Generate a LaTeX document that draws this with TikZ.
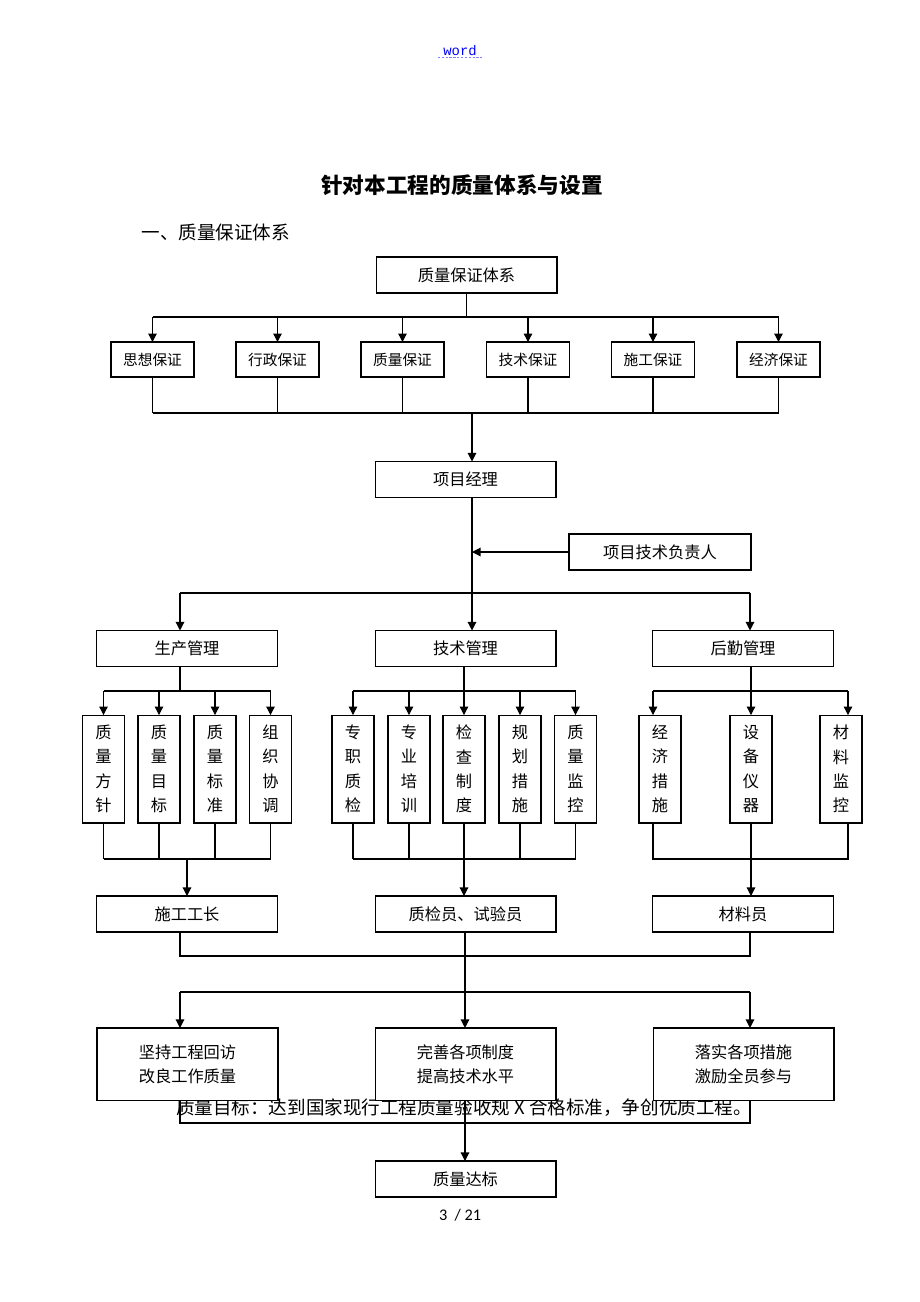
\documentclass[tikz,border=0pt]{standalone}
\usepackage{fontspec}
\newfontfamily\cjk{Noto Sans CJK SC}
\newfontfamily\pagefont{Carlito}
\newfontfamily\wordfont{Liberation Mono}
\usetikzlibrary{arrows.meta}

\tikzset{
  box/.style={draw, fill=white, line width=0.7pt, inner sep=0pt, outer sep=0pt,
    minimum width=117pt, minimum height=23.3pt, font=\cjk\fontsize{10.5}{12}\selectfont},
  smallbox/.style={box, minimum width=53.7pt, minimum height=22.6pt,
    font=\cjk\fontsize{9.5}{11}\selectfont},
  tallbox/.style={box, minimum width=27.2pt, minimum height=69.8pt, align=center,
    font=\cjk\fontsize{10.5}{15.8}\selectfont},
  widebox/.style={box, minimum height=46.6pt, align=center,
    font=\cjk\fontsize{10.5}{15.5}\selectfont},
  link/.style={line width=0.75pt},
  arr/.style={link, -{Triangle[length=5.5pt,width=5.5pt]}},
}

\begin{document}
\begin{tikzpicture}[x=0.6467pt, y=-0.6467pt]
    \useasboundingbox (0,0) rectangle (920,1302);

    \node[text=blue, font=\wordfont\fontsize{9}{10}\selectfont] (word) at (460,51) {word};
    \draw[blue!50, dash pattern=on 1.5pt off 1pt, line width=0.5pt] ([yshift=-1pt]word.base west) -- ([yshift=-1pt]word.base east);
    \node[font=\cjk\bfseries\fontsize{14}{16}\selectfont] (title) at (462,185) {针对本工程的质量体系与设置};
    \node[anchor=west, font=\cjk\fontsize{12}{14}\selectfont] (head) at (136,232) {一、质量保证体系};
    \node[font=\cjk\fontsize{12}{14}\selectfont] (goal) at (464,1108) {质量目标：达到国家现行工程质量验收规 X 合格标准，争创优质工程。};
    \node[font=\pagefont\fontsize{10.5}{12}\selectfont] (page) at (460,1215) {3\ \ / 21};

    % levels and spines
    \coordinate (h1) at (0,317);
    \coordinate (h2) at (0,413);
    \coordinate (h3) at (0,593);
    \coordinate (h4) at (0,691);
    \coordinate (h5) at (0,859);
    \coordinate (h6) at (0,956);
    \coordinate (h7) at (0,992);
    \coordinate (h8) at (0,1123);
    \coordinate (sp) at (472,0);
    \coordinate (cx) at (465,0);
    \coordinate (lx) at (180,0);
    \coordinate (rx) at (750,0);
    \coordinate (la) at (653,0);
    \coordinate (lb) at (848,0);

    \node[box] (top) at (466.5,275) {质量保证体系};
    \foreach \x/\t [count=\i] in {152.5/思想保证, 277.5/行政保证, 402.5/质量保证,
                                  528/技术保证, 653/施工保证, 778.5/经济保证}
        \node[smallbox] (g\i) at (\x,359.5) {\t};

    \node[box] (pm) at (465.5,479.5) {项目经理};
    \node[box, minimum width=117.7pt] (tech) at (660,552) {项目技术负责人};

    \node[box] (prod) at (187,648.5) {生产管理};
    \node[box] (tm) at (465.5,648.5) {技术管理};
    \node[box] (hq) at (743,648.5) {后勤管理};

    \foreach \x/\t [count=\i] in {103.5/质\\量\\方\\针, 159/质\\量\\目\\标,
                                  215/质\\量\\标\\准, 270.5/组\\织\\协\\调}
        \node[tallbox] (p\i) at (\x,769) {\t};
    \foreach \x/\t [count=\i] in {353/专\\职\\质\\检, 409/专\\业\\培\\训, 464/检\\查\\制\\度,
                                  520/规\\划\\措\\施, 575.5/质\\量\\监\\控}
        \node[tallbox] (t\i) at (\x,769) {\t};
    \foreach \x/\t [count=\i] in {660/经\\济\\措\\施, 751/设\\备\\仪\\器, 841/材\\料\\监\\控}
        \node[tallbox] (l\i) at (\x,769) {\t};

    \node[box] (sg) at (187,914) {施工工长};
    \node[box] (zj) at (465.5,914) {质检员、试验员};
    \node[box] (cl) at (743,914) {材料员};

    \node[widebox] (w1) at (187.5,1064) {坚持工程回访\\改良工作质量};
    \node[widebox] (w2) at (465.5,1064) {完善各项制度\\提高技术水平};
    \node[widebox] (w3) at (743.5,1064) {落实各项措施\\激励全员参与};
    \node[box] (ok) at (465.5,1179) {质量达标};

    % top tier
    \draw[link] (top.south) -- (top.south |- h1);
    \draw[link] (g1 |- h1) -- (g6 |- h1);
    \draw[link] (g1 |- h2) -- (g6 |- h2);
    \foreach \i in {1,...,6} {
        \draw[arr] (g\i |- h1) -- (g\i.north);
        \draw[link] (g\i.south) -- (g\i |- h2);
    }
    \draw[arr] (sp |- h2) -- (sp |- pm.north);
    \draw[arr] (sp |- pm.south) -- (sp |- tm.north);
    \draw[arr] (tech.west) -- (sp |- tech.west);
    \draw[link] (lx |- h3) -- (rx |- h3);
    \draw[arr] (lx |- h3) -- (lx |- prod.north);
    \draw[arr] (rx |- h3) -- (rx |- hq.north);

    % production
    \draw[link] (lx |- prod.south) -- (lx |- h4);
    \draw[link] (p1 |- h4) -- (p4 |- h4);
    \draw[link] (p1 |- h5) -- (p4 |- h5);
    \foreach \i in {1,...,4} {
        \draw[arr] (p\i |- h4) -- (p\i.north);
        \draw[link] (p\i.south) -- (p\i |- h5);
    }
    \draw[arr] (sg.north |- h5) -- (sg.north);

    % technology
    \draw[link] (t1 |- h4) -- (t5 |- h4);
    \draw[link] (t1 |- h5) -- (t5 |- h5);
    \draw[arr] (t3 |- tm.south) -- (t3.north);
    \foreach \i in {1,2,4,5} {
        \draw[arr] (t\i |- h4) -- (t\i.north);
        \draw[link] (t\i.south) -- (t\i |- h5);
    }
    \draw[arr] (t3.south) -- (t3 |- zj.north);

    % logistics
    \draw[link] (l2 |- hq.south) -- (l2 |- h4);
    \draw[link] (la |- h4) -- (lb |- h4);
    \draw[arr] (la |- h4) -- (la |- l1.north);
    \draw[arr] (l2 |- h4) -- (l2.north);
    \draw[arr] (lb |- h4) -- (lb |- l3.north);
    \draw[link] (la |- l1.south) -- (la |- h5) -- (lb |- h5) -- (lb |- l3.south);
    \draw[arr] (l2.south) -- (l2 |- cl.north);

    % bottom tier
    \draw[link] (lx |- sg.south) -- (lx |- h6) -- (rx |- h6) -- (rx |- cl.south);
    \draw[arr] (cx |- zj.south) -- (cx |- w2.north);
    \draw[link] (lx |- h7) -- (rx |- h7);
    \draw[arr] (lx |- h7) -- (lx |- w1.north);
    \draw[arr] (rx |- h7) -- (rx |- w3.north);
    \draw[link] (lx |- w1.south) -- (lx |- h8) -- (rx |- h8) -- (rx |- w3.south);
    \draw[arr] (cx |- w2.south) -- (cx |- ok.north);
\end{tikzpicture}
\end{document}
